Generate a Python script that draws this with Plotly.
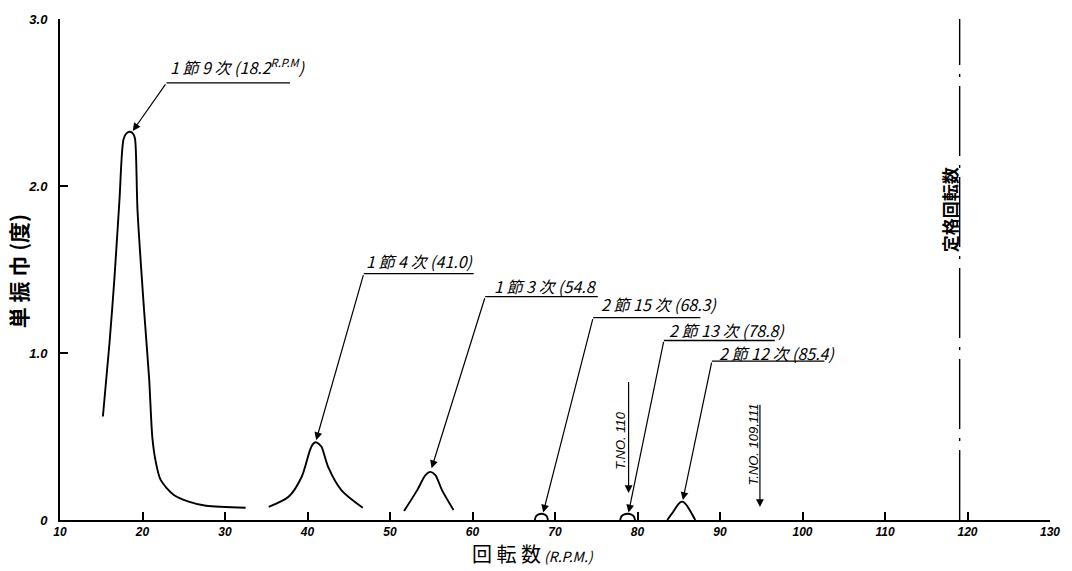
import plotly.graph_objects as go

# ---------------- data ----------------
x_ticks = [10, 20, 30, 40, 50, 60, 70, 80, 90, 100, 110, 120, 130]
y_ticks = [0, 1, 2, 3]
y_ticktext = ["0", "1.0", "2.0", "3.0"]

# resonance curves (RPM, single amplitude in degrees)
c1_x = [15.2, 16.0, 16.6, 17.2, 17.7, 18.05, 18.5, 18.9, 19.1, 19.4, 20.2, 20.8, 21.2, 21.6, 22.2, 23.8, 25.6, 27.7, 32.5]
c1_y = [0.62, 1.06, 1.45, 1.91, 2.28, 2.315, 2.325, 2.31, 2.28, 1.85, 1.25, 0.85, 0.49, 0.35, 0.24, 0.15, 0.11, 0.085, 0.073]

c2_x = [35.3, 37.7, 39.3, 40.3, 40.65, 41.0, 41.35, 41.7, 42.5, 44.1, 46.7]
c2_y = [0.079, 0.139, 0.259, 0.418, 0.455, 0.466, 0.457, 0.438, 0.318, 0.179, 0.073]

c3_x = [51.7, 53.3, 54.3, 54.9, 55.5, 56.3, 57.7]
c3_y = [0.054, 0.179, 0.269, 0.288, 0.269, 0.179, 0.060]

c4_x = [67.55, 67.7, 68.0, 68.35, 68.7, 69.0, 69.15]
c4_y = [0.0, 0.022, 0.034, 0.037, 0.034, 0.022, 0.0]

c5_x = [77.9, 78.05, 78.4, 78.8, 79.2, 79.55, 79.7]
c5_y = [0.0, 0.022, 0.034, 0.037, 0.034, 0.022, 0.0]

c6_x = [83.6, 84.2, 84.8, 85.15, 85.4, 85.65, 86.0, 86.5, 87.0]
c6_y = [0.0, 0.04, 0.085, 0.105, 0.11, 0.105, 0.085, 0.045, 0.0]

curves_x = [c1_x, c2_x, c3_x, c4_x, c5_x, c6_x]
curves_y = [c1_y, c2_y, c3_y, c4_y, c5_y, c6_y]

# peak labels with leader lines
peak_labels = [
    "1 節 9 次 (18.2<sup>R.P.M</sup>)",
    "1 節 4 次 (41.0)",
    "1 節 3 次 (54.8",
    "2 節 15 次 (68.3)",
    "2 節 13 次 (78.8)",
    "2 節 12 次 (85.4)",
]
tip_x = [18.82, 41.05, 55.04, 68.57, 78.92, 85.5]
tip_y = [2.33, 0.478, 0.31, 0.045, 0.045, 0.12]
knee_x = [22.91, 46.82, 61.54, 74.62, 83.2, 89.02]
knee_y = [2.617, 1.475, 1.337, 1.212, 1.075, 0.951]
end_x = [37.88, 60.14, 75.19, 87.62, 96.64, 102.66]
text_x = [23.1, 46.8, 62.4, 75.3, 83.6, 89.6]
text_y = [2.715, 1.55, 1.40, 1.296, 1.14, 1.0]

# test number arrows
tno_labels = ["T.NO. 110", "T.NO. 109,111"]
tno_x = [78.92, 94.84]
tno_top = [0.836, 0.699]
tno_tip = [0.161, 0.078]
tno_text_x = [77.95, 94.05]
tno_text_y = [0.478, 0.454]

rated_rpm = 119.05
rated_label = "定格回転数"

x_title = "回 転 数"
y_title = "単 振 巾 (度)"

# ---------------- figure ----------------
fig = go.Figure()
for cx, cy in zip(curves_x, curves_y):
    fig.add_trace(go.Scatter(x=cx, y=cy, mode="lines",
                             line=dict(color="black", width=1.9, shape="spline", smoothing=0.8),
                             showlegend=False, hoverinfo="skip"))

cjk = "Noto Sans CJK JP"
for i, lab in enumerate(peak_labels):
    fig.add_shape(type="line", xref="x", yref="y", x0=knee_x[i], y0=knee_y[i], x1=end_x[i], y1=knee_y[i],
                  line=dict(color="black", width=1.3))
    fig.add_annotation(x=tip_x[i], y=tip_y[i], ax=knee_x[i], ay=knee_y[i], axref="x", ayref="y",
                       xref="x", yref="y", text="", showarrow=True, arrowhead=2, arrowsize=1.3,
                       arrowwidth=1.2, arrowcolor="black")
    fig.add_annotation(x=text_x[i], y=text_y[i], xref="x", yref="y", text=lab, showarrow=False,
                       xanchor="left", yanchor="middle",
                       font=dict(family=cjk, size=16, color="black", style="italic"))

for i, lab in enumerate(tno_labels):
    fig.add_annotation(x=tno_x[i], y=tno_tip[i], ax=tno_x[i], ay=tno_top[i], axref="x", ayref="y",
                       xref="x", yref="y", text="", showarrow=True, arrowhead=2, arrowsize=1.3,
                       arrowwidth=1.2, arrowcolor="black")
    fig.add_annotation(x=tno_text_x[i], y=tno_text_y[i], xref="x", yref="y", text=lab, showarrow=False,
                       textangle=-90, xanchor="center", yanchor="middle",
                       font=dict(family="Liberation Sans", size=13, color="black", style="italic"))

fig.add_shape(type="line", xref="x", yref="y", x0=rated_rpm, x1=rated_rpm, y0=0, y1=3.0,
              line=dict(color="black", width=1.4, dash="70px,9px,3px,9px"))
fig.add_annotation(x=117.85, y=1.86, xref="x", yref="y", text=rated_label, showarrow=False,
                   textangle=-90, xanchor="center", yanchor="middle",
                   font=dict(family=cjk, size=17, color="black", weight="bold"))

# axis titles
fig.add_annotation(x=0, xref="paper", xshift=-42, y=1.49, yref="y", text=y_title, showarrow=False,
                   textangle=-90, xanchor="center", yanchor="middle",
                   font=dict(family=cjk, size=21, color="black", weight="bold"))
fig.add_annotation(x=67.3, xref="x", y=0, yref="paper", yshift=-33, xanchor="center", yanchor="middle",
                   text=x_title + "<span style='font-size:14px;font-style:italic'> (R.P.M.)</span>",
                   showarrow=False, font=dict(family=cjk, size=20, color="black"))

fig.update_xaxes(range=[10, 130], tickvals=x_ticks, ticks="inside", ticklen=8, tickwidth=2,
                 tickcolor="black", showline=True, linewidth=2, linecolor="black",
                 showgrid=False, zeroline=False,
                 tickfont=dict(family="Liberation Sans", size=12, color="black", style="italic", weight="bold"))
fig.update_yaxes(range=[0, 3.0], tickvals=y_ticks, ticktext=y_ticktext, ticks="inside", ticklen=8,
                 tickwidth=2, tickcolor="black", showline=True, linewidth=2, linecolor="black",
                 showgrid=False, zeroline=False, ticklabelstandoff=8,
                 tickfont=dict(family="Liberation Sans", size=13, color="black", style="italic", weight="bold"))

fig.update_layout(width=1072, height=571, margin=dict(l=60, r=15, t=18, b=51),
                  plot_bgcolor="white", paper_bgcolor="white", showlegend=False)

fig.write_html("out.html")
